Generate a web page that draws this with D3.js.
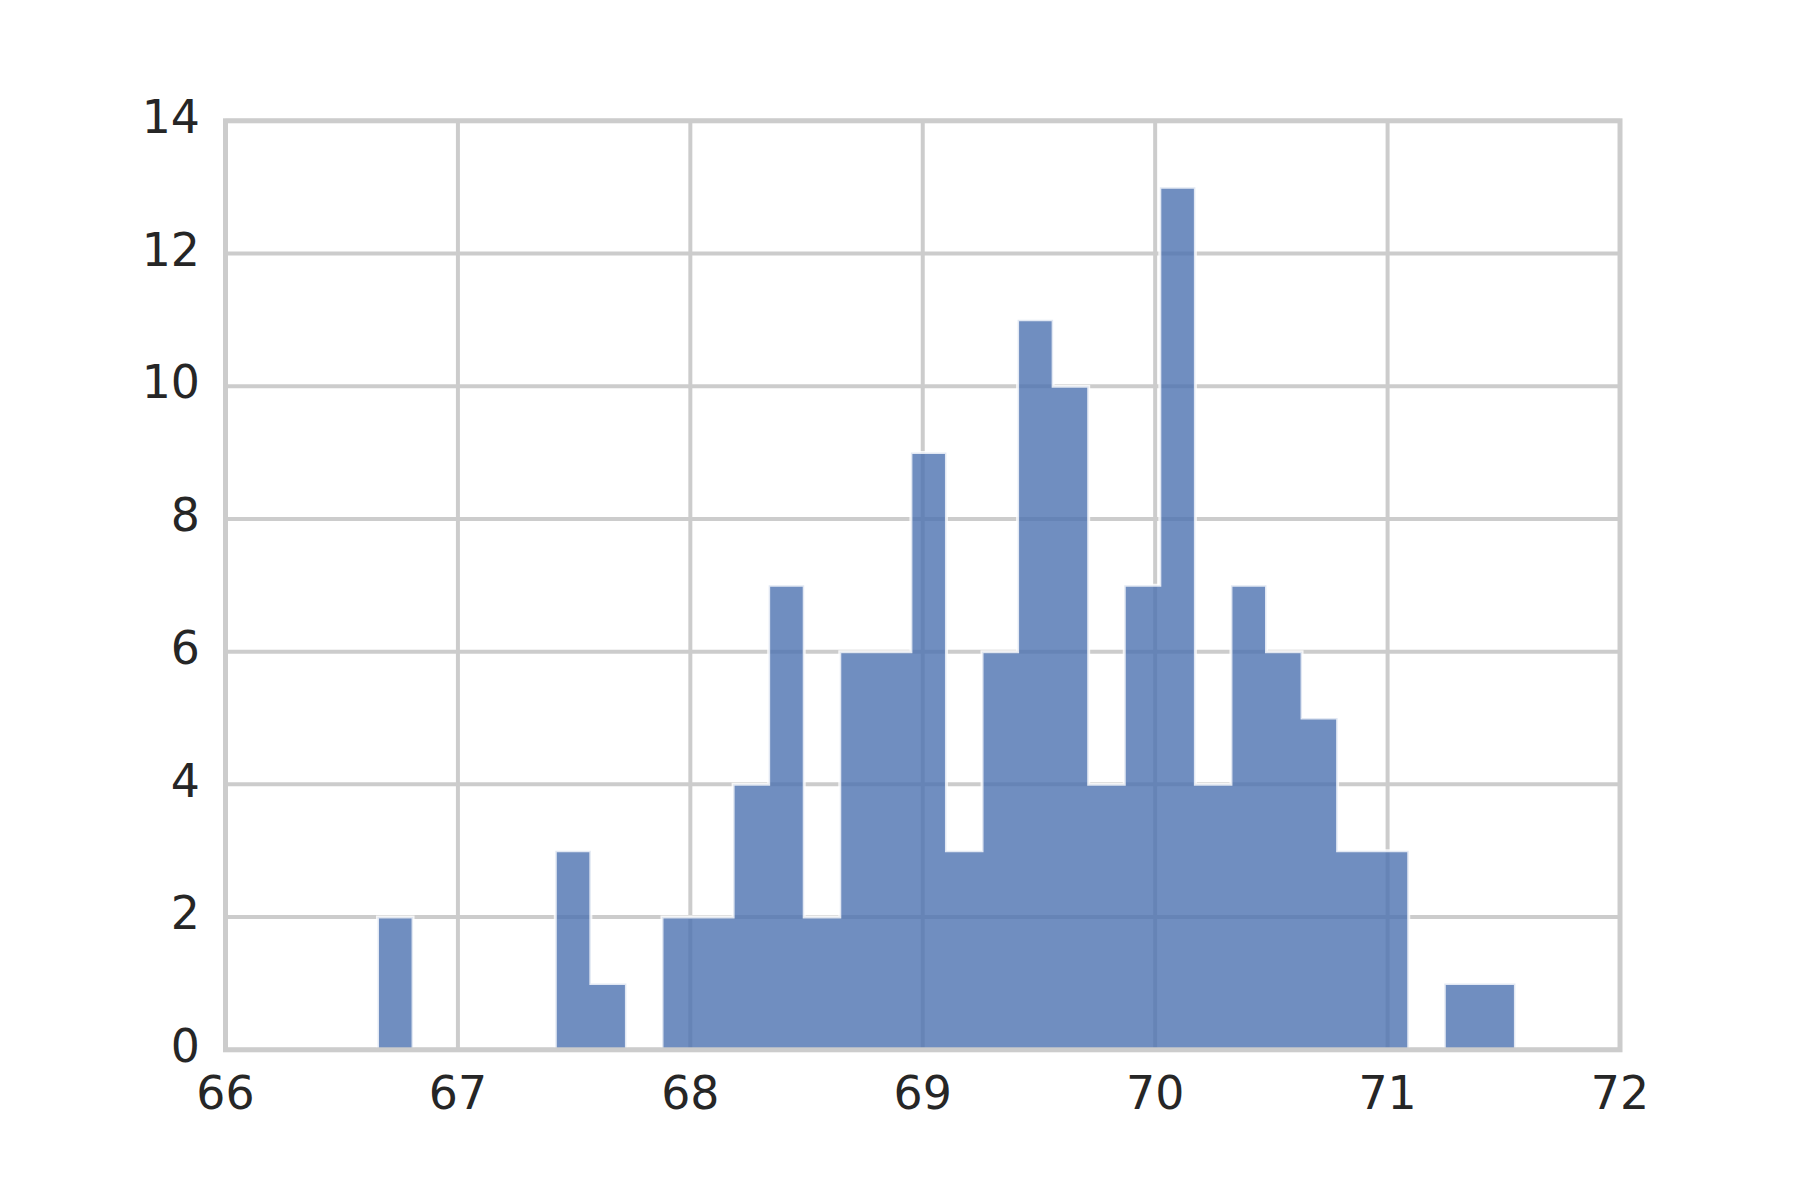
<!DOCTYPE html>
<html>
<head>
<meta charset="utf-8">
<script src="https://cdn.jsdelivr.net/npm/d3@7"></script>
<style>
  html, body { margin: 0; padding: 0; background: #ffffff; }
  svg { display: block; }
  text { font-family: "DejaVu Sans", sans-serif; fill: #262626; }
</style>
</head>
<body>
<svg id="chart" width="1800" height="1200"></svg>
<script>
// Histogram bin edges (33 edges -> 32 bins)
const binEdges = [66.654, 66.807, 66.960, 67.113, 67.266, 67.419, 67.572, 67.725,
                  67.878, 68.031, 68.184, 68.337, 68.490, 68.643, 68.796, 68.949,
                  69.102, 69.255, 69.408, 69.561, 69.714, 69.867, 70.020, 70.173,
                  70.326, 70.479, 70.632, 70.785, 70.938, 71.091, 71.244, 71.397,
                  71.550];
// Counts per bin
const counts = [2, 0, 0, 0, 0, 3, 1, 0,
                2, 2, 4, 7, 2, 6, 6, 9,
                3, 6, 11, 10, 4, 7, 13, 4,
                7, 6, 5, 3, 3, 0, 1, 1];
const xTicks = [66, 67, 68, 69, 70, 71, 72];
const yTicks = [0, 2, 4, 6, 8, 10, 12, 14];

(function () {
const svg = d3.select("#chart");
const pL = 225.5, pR = 1620, pT = 120.8, pB = 1049.8;
const x = d3.scaleLinear().domain([66, 72]).range([pL, pR]);
const y = d3.scaleLinear().domain([0, 14]).range([pB, pT]);

// grid (below bars)
const grid = svg.append("g");
grid.selectAll("line.gx").data(xTicks).enter().append("line")
  .attr("class", "gx")
  .attr("x1", d => x(d)).attr("x2", d => x(d))
  .attr("y1", pT).attr("y2", pB)
  .attr("stroke", "#cccccc").attr("stroke-width", 4);
grid.selectAll("line.gy").data(yTicks).enter().append("line")
  .attr("class", "gy")
  .attr("x1", pL).attr("x2", pR)
  .attr("y1", d => y(d)).attr("y2", d => y(d))
  .attr("stroke", "#cccccc").attr("stroke-width", 4);

// stepfilled histogram polygon
const pts = [[binEdges[0], 0]];
counts.forEach((c, i) => {
  pts.push([binEdges[i], c]);
  pts.push([binEdges[i + 1], c]);
});
pts.push([binEdges[binEdges.length - 1], 0]);
const line = d3.line().x(d => x(d[0])).y(d => y(d[1]));

svg.append("clipPath").attr("id", "clip")
  .append("rect").attr("x", pL).attr("y", pT)
  .attr("width", pR - pL).attr("height", pB - pT);

const hg = svg.append("g").attr("clip-path", "url(#clip)");
hg.append("path")
  .attr("d", line(pts) + "Z")
  .attr("fill", "#4c72b0").attr("fill-opacity", 0.8)
  .attr("stroke", "none");
hg.append("path")
  .attr("d", line(pts) + "Z")
  .attr("fill", "none")
  .attr("stroke", "#ffffff").attr("stroke-opacity", 0.8)
  .attr("stroke-width", 3).attr("stroke-linejoin", "miter");

// spines
svg.append("rect")
  .attr("x", pL).attr("y", pT)
  .attr("width", pR - pL).attr("height", pB - pT)
  .attr("fill", "none").attr("stroke", "#cccccc").attr("stroke-width", 5);

// tick labels
const fs = 45.8;
svg.append("g").selectAll("text").data(yTicks).enter().append("text")
  .attr("x", 200).attr("y", d => y(d) + 12.2)
  .attr("text-anchor", "end").attr("font-size", fs)
  .text(d => d);
svg.append("g").selectAll("text").data(xTicks).enter().append("text")
  .attr("x", d => x(d)).attr("y", 1109.3)
  .attr("text-anchor", "middle").attr("font-size", fs)
  .text(d => d);
})();
</script>
</body>
</html>
